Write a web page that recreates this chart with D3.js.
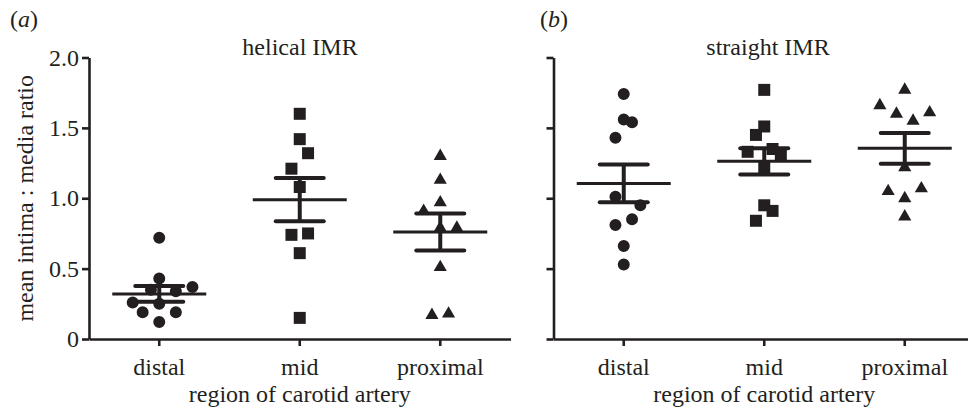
<!DOCTYPE html>
<html>
<head>
<meta charset="utf-8">
<script src="https://cdn.jsdelivr.net/npm/d3@7"></script>
<style>
  body { margin: 0; background: #fff; }
  text { font-family: "Liberation Serif", "Times New Roman", serif; fill: #231f20; }
</style>
</head>
<body>
<div id="content"></div>
<script>
// categories and ticks
var categories = ["distal", "mid", "proximal"];
var yTicks = [0, 0.5, 1.0, 1.5, 2.0];

// helical IMR, values per region (lane = sideways spread in symbol units)
var helicalDistal = [0.72, 0.43, 0.37, 0.34, 0.35, 0.26, 0.25, 0.19, 0.19, 0.12];
var helicalDistalLane = [0, 0, 4, 2, -1, -3.2, 0, -2, 2, 0];
var helicalMid = [1.60, 1.42, 1.32, 1.21, 1.08, 0.75, 0.74, 0.61, 0.15];
var helicalMidLane = [0, 0, 1, -1, 0, 1, -1, 0, 0];
var helicalProximal = [1.31, 1.14, 0.98, 0.92, 0.80, 0.80, 0.52, 0.18, 0.19];
var helicalProximalLane = [0, 0, 0, -2, 0, 2, 0, -1, 1];
var helicalMean = [0.32, 0.99, 0.76];
var helicalSem = [0.056, 0.153, 0.131];

// straight IMR
var straightDistal = [1.74, 1.56, 1.54, 1.43, 1.01, 0.95, 0.85, 0.81, 0.66, 0.53];
var straightDistalLane = [0, 0, 1, -1, -1, 2, 1, -1, 0, 0];
var straightMid = [1.77, 1.51, 1.45, 1.33, 1.35, 1.31, 1.22, 0.95, 0.91, 0.84];
var straightMidLane = [0, 0, -1, -2, 1, 2, 0, 0, 1, -1];
var straightProximal = [1.78, 1.67, 1.62, 1.61, 1.56, 1.23, 1.08, 1.06, 1.01, 0.88];
var straightProximalLane = [0, -3, 3, -1, 1, 0, 2, -2, 0, 0];
var straightMean = [1.105, 1.262, 1.355];
var straightSem = [0.134, 0.093, 0.109];

var ink = "#231f20";
var W = 968, H = 410;
var top0 = 57.5, bottom0 = 339, plotW = 421.5;
var laneWidth = 8.3;
var fontSize = "24px";

var svg = d3.select("#content").append("svg")
    .attr("width", W)
    .attr("height", H);

var y = d3.scaleLinear().domain([0, 2]).range([bottom0, top0]);

var symbolTypes = [d3.symbolCircle, d3.symbolSquare, d3.symbolTriangle];
var symbolSizes = [113, 144, 75];

function panel(opts) {
  var g = svg.append("g");
  var x = d3.scaleBand().domain(categories).range([opts.left, opts.left + plotW]);

  // y axis
  var yAxis = d3.axisLeft(y)
      .tickValues(yTicks)
      .tickSize(7)
      .tickSizeOuter(0)
      .tickPadding(3)
      .tickFormat(function(d) { return opts.yLabels ? (d === 0 ? "0" : d3.format(".1f")(d)) : ""; });
  var ya = g.append("g")
      .attr("transform", "translate(" + opts.left + ",0)")
      .call(yAxis);

  // x axis
  var xAxis = d3.axisBottom(x).tickSize(7).tickSizeOuter(0).tickPadding(12);
  var xa = g.append("g")
      .attr("transform", "translate(0," + bottom0 + ")")
      .call(xAxis);

  [ya, xa].forEach(function(a) {
    a.select(".domain").attr("stroke", ink).attr("stroke-width", 2.6);
    a.selectAll(".tick line").attr("stroke", ink).attr("stroke-width", 2.6);
    a.selectAll(".tick text")
      .attr("fill", ink)
      .style("font-family", "'Liberation Serif', serif")
      .style("font-size", fontSize);
  });

  // points
  opts.series.forEach(function(vals, i) {
    var cx = x(categories[i]) + x.bandwidth() / 2;
    var sym = d3.symbol().type(symbolTypes[i]).size(symbolSizes[i]);
    g.append("g").selectAll("path")
      .data(vals)
      .enter()
      .append("path")
        .attr("d", sym)
        .attr("transform", function(d, j) {
          var dy = i === 2 ? 1.5 : 0;
          return "translate(" + (cx + opts.lanes[i][j] * laneWidth) + "," + (y(d) + dy) + ")";
        })
        .attr("fill", ink);
  });

  // mean and sem bars
  var bars = g.append("g").attr("stroke", ink).attr("fill", "none");
  categories.forEach(function(c, i) {
    var cx = x(c) + x.bandwidth() / 2;
    var m = opts.mean[i], s = opts.sem[i];
    bars.append("line")
      .attr("x1", cx - 47).attr("x2", cx + 47)
      .attr("y1", y(m)).attr("y2", y(m))
      .attr("stroke-width", 3);
    bars.append("line")
      .attr("x1", cx).attr("x2", cx)
      .attr("y1", y(m + s)).attr("y2", y(m - s))
      .attr("stroke-width", 4);
    [m + s, m - s].forEach(function(v) {
      bars.append("line")
        .attr("x1", cx - 24).attr("x2", cx + 24)
        .attr("y1", y(v)).attr("y2", y(v))
        .attr("stroke-width", 4)
        .attr("stroke-linecap", "round");
    });
  });

  // titles
  var mid = opts.left + plotW / 2;
  g.append("text")
    .attr("x", opts.titleX).attr("y", 55)
    .attr("text-anchor", "middle")
    .style("font-size", fontSize)
    .text(opts.title);
  g.append("text")
    .attr("x", mid).attr("y", 402)
    .attr("text-anchor", "middle")
    .style("font-size", fontSize)
    .text("region of carotid artery");
  var lab = g.append("text")
    .attr("x", opts.letterX).attr("y", 27)
    .style("font-size", fontSize);
  lab.append("tspan").text("(");
  lab.append("tspan").style("font-style", "italic").text(opts.letter);
  lab.append("tspan").text(")");
}

panel({
  left: 89,
  yLabels: true,
  title: "helical IMR",
  titleX: 300,
  letter: "a",
  letterX: 10,
  series: [helicalDistal, helicalMid, helicalProximal],
  lanes: [helicalDistalLane, helicalMidLane, helicalProximalLane],
  mean: helicalMean,
  sem: helicalSem
});

panel({
  left: 553.5,
  yLabels: false,
  title: "straight IMR",
  titleX: 768,
  letter: "b",
  letterX: 540,
  series: [straightDistal, straightMid, straightProximal],
  lanes: [straightDistalLane, straightMidLane, straightProximalLane],
  mean: straightMean,
  sem: straightSem
});

// y axis label
svg.append("text")
  .attr("transform", "translate(33," + ((top0 + bottom0) / 2) + ") rotate(-90)")
  .attr("text-anchor", "middle")
  .style("font-size", fontSize)
  .text("mean intima : media ratio");
</script>
</body>
</html>
